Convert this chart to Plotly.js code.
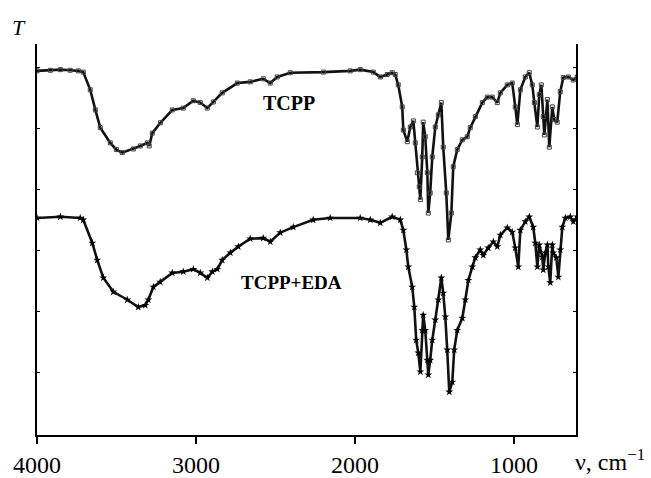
<!DOCTYPE html>
<html>
<head>
<meta charset="utf-8">
<script src="https://cdn.plot.ly/plotly-3.0.1.min.js"></script>
<style>html,body{margin:0;padding:0;background:#fff;}#chart{width:651px;height:478px;}</style>
</head>
<body>
<div id="chart"></div>
<script>
// Wavenumbers (cm^-1) and transmittance (arbitrary units)
const tcppWn = [4000,3916,3853,3791,3740,3709,3665,3633,3602,3539,3501,3464,3394,3350,3306,3294,3275,3224,3149,3080,3017,2973,2929,2891,2835,2740,2659,2577,2533,2489,2407,2199,2030,1967,1885,1841,1797,1766,1747,1728,1703,1696,1671,1652,1633,1621,1608,1596,1589,1577,1571,1558,1545,1539,1527,1514,1495,1476,1457,1445,1426,1413,1394,1382,1357,1325,1294,1275,1243,1199,1168,1137,1105,1086,1042,1011,992,979,960,929,904,885,872,853,841,828,816,809,790,778,759,747,728,709,690,658,627,602];
const tcppT = [5.95,5.96,5.97,5.96,5.95,5.93,5.64,5.31,5.02,4.77,4.66,4.61,4.67,4.72,4.77,4.72,4.93,5.10,5.31,5.34,5.46,5.43,5.34,5.44,5.59,5.75,5.77,5.82,5.75,5.85,5.92,5.93,5.95,5.97,5.93,5.85,5.89,5.92,5.89,5.72,5.36,4.98,4.79,5.03,5.13,4.77,4.28,4.05,3.84,4.54,5.11,4.87,4.28,3.62,3.95,4.54,5.03,5.23,5.43,4.70,3.95,3.18,3.62,4.38,4.66,4.82,4.87,5.02,5.20,5.43,5.52,5.52,5.43,5.59,5.72,5.75,5.36,5.07,5.64,5.85,5.92,5.72,5.43,5.03,5.56,5.72,5.20,4.90,5.48,4.70,5.36,5.15,5.11,5.61,5.84,5.85,5.80,5.85];

const edaWn = [4000,3853,3728,3709,3652,3621,3583,3520,3432,3363,3319,3300,3268,3225,3149,3080,3017,2973,2929,2897,2866,2835,2784,2734,2659,2577,2533,2470,2388,2263,2156,1967,1904,1841,1766,1715,1696,1677,1665,1640,1627,1615,1602,1589,1577,1571,1558,1545,1539,1527,1514,1495,1476,1457,1445,1432,1420,1407,1388,1376,1357,1325,1306,1287,1262,1243,1212,1193,1162,1130,1105,1086,1042,1011,992,973,960,929,904,879,866,853,841,822,816,803,790,784,772,759,753,734,721,709,696,677,646,627,602];
const edaT = [3.54,3.56,3.54,3.51,3.13,2.85,2.56,2.33,2.20,2.08,2.11,2.20,2.41,2.49,2.64,2.66,2.70,2.64,2.56,2.66,2.70,2.85,2.97,3.07,3.20,3.21,3.15,3.30,3.39,3.51,3.54,3.54,3.51,3.46,3.56,3.51,3.34,3.02,2.74,2.41,2.08,1.54,1.33,1.02,1.70,1.95,1.70,1.21,0.97,1.21,1.54,1.87,2.20,2.56,2.31,1.92,1.38,0.69,0.85,1.38,1.70,1.90,2.20,2.52,2.74,2.89,3.02,2.93,3.05,3.15,3.07,3.26,3.38,3.31,3.05,2.74,3.34,3.48,3.56,3.39,3.13,2.74,3.10,2.90,2.69,2.97,3.10,2.74,2.48,3.10,2.97,2.89,2.57,3.02,3.39,3.54,3.56,3.48,3.56];

const bottomTicks = [4000,3000,2000,1000];
const bottomTickText = ['4000','3000','2000','1000'];
const seriesNames = ['TCPP','TCPP+EDA'];

const serif = 'Liberation Serif, Times New Roman, serif';
const xr = [4000, 610];
const yr = [-0.016, 6.39];

const traces = [
  {x: tcppWn, y: tcppT, name: seriesNames[0], type:'scatter', mode:'lines+markers',
   line:{color:'#111', width:2.6},
   marker:{symbol:'square-open', size:4, color:'#444', line:{width:1}}},
  {x: edaWn, y: edaT, name: seriesNames[1], type:'scatter', mode:'lines+markers',
   line:{color:'#111', width:2.6},
   marker:{symbol:'star', size:6, color:'#000'}}
];

const layout = {
  width:651, height:478,
  margin:{l:37, r:75, t:44, b:43},
  paper_bgcolor:'#fff', plot_bgcolor:'#fff',
  showlegend:false,
  font:{family:serif, color:'#000'},
  xaxis:{range:xr, tickmode:'array', tickvals:bottomTicks, ticktext:bottomTickText,
    ticks:'outside', ticklen:7, tickwidth:2, tickcolor:'#000',
    showline:true, linewidth:2, linecolor:'#000', mirror:false,
    showgrid:false, zeroline:false, tickfont:{family:serif, size:24, color:'#000'}},
  xaxis2:{range:xr, overlaying:'x', side:'top', dtick:500, tick0:0,
    ticks:'inside', ticklen:3, tickwidth:1, tickcolor:'#000',
    showline:true, linewidth:2, linecolor:'#000', showticklabels:false,
    showgrid:false, zeroline:false},
  yaxis:{range:yr, dtick:1, tick0:0, ticks:'inside', ticklen:3, tickwidth:1, tickcolor:'#000',
    showline:true, linewidth:2, linecolor:'#000', mirror:'ticks',
    showticklabels:false, showgrid:false, zeroline:false},
  annotations:[
    {text:'<i>T</i>', xref:'paper', yref:'paper', x:-0.033, y:1.043, showarrow:false,
     xanchor:'center', yanchor:'middle', font:{family:serif, size:22, color:'#000'}},
    {text:'<b>'+seriesNames[0]+'</b>', xref:'paper', yref:'paper', x:0.4675, y:0.849, showarrow:false,
     xanchor:'center', yanchor:'middle', font:{family:serif, size:20, color:'#000'}},
    {text:'<b>'+seriesNames[1]+'</b>', xref:'paper', yref:'paper', x:0.473, y:0.389, showarrow:false,
     xanchor:'center', yanchor:'middle', font:{family:serif, size:19, color:'#000'}},
    {text:'ν, cm<sup>−1</sup>', xref:'paper', yref:'paper', x:1.13, y:-0.105, showarrow:false,
     xanchor:'right', yanchor:'bottom', borderpad:0, font:{family:serif, size:24, color:'#000'}}
  ]
};

Plotly.newPlot('chart', traces, layout, {staticPlot:true, displayModeBar:false});
</script>
</body>
</html>
